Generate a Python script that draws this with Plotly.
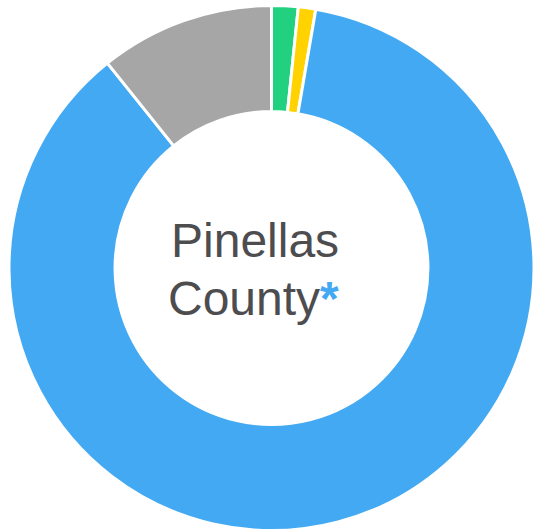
import plotly.graph_objects as go

labels = ["Green", "Yellow", "Blue", "Gray"]
values = [1.63, 1.07, 86.55, 10.75]
colors = ["#22d17f", "#ffd200", "#42a9f2", "#a6a6a6"]
line1 = "Pinellas"
line2 = "County"

W, H = 534, 532
cx, cy, r = 271.5, 268, 262.5

fig = go.Figure(go.Pie(
    labels=labels, values=values, hole=0.596, sort=False, direction="clockwise",
    rotation=0, textinfo="none", hoverinfo="label+percent",
    marker=dict(colors=colors, line=dict(color="white", width=3)),
    domain=dict(x=[max(0, (cx - r) / W), min(1, (cx + r) / W)],
                y=[max(0, (H - cy - r) / H), min(1, (H - cy + r) / H)]),
    showlegend=False,
))

font = dict(family="Liberation Sans, Arial, sans-serif", size=48, color="#4d4d50")
fig.add_annotation(x=254.5 / W, y=(H - 240.5) / H, xref="paper", yref="paper",
                   text=line1, showarrow=False, xanchor="center", yanchor="middle", font=font)
fig.add_annotation(x=253.5 / W, y=(H - 298.5) / H, xref="paper", yref="paper",
                   text=line2 + "<span style='color:#42a9f2'><b>*</b></span>", showarrow=False,
                   xanchor="center", yanchor="middle", font=font)

fig.update_layout(width=W, height=H, margin=dict(l=0, r=0, t=0, b=0),
                  paper_bgcolor="white", plot_bgcolor="white")
fig.write_html("out.html", config={"displayModeBar": False},
               post_script="document.body.style.margin='0';document.body.style.overflow='hidden';")
